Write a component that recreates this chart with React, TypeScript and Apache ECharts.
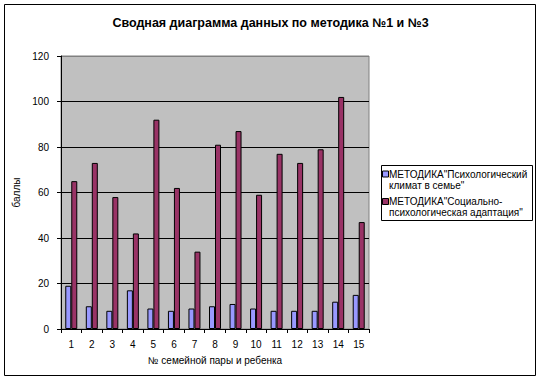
import React, { useEffect, useRef } from "react";
import * as echarts from "echarts";

const categories = ["1", "2", "3", "4", "5", "6", "7", "8", "9", "10", "11", "12", "13", "14", "15"];
const seriesNames = [
  'МЕТОДИКА"Психологический климат в семье"',
  'МЕТОДИКА"Социально-психологическая адаптация"',
];
const legendLines = [
  ['МЕТОДИКА"Психологический', 'климат в семье"'],
  ['МЕТОДИКА"Социально-', 'психологическая адаптация"'],
];
const climateValues = [19, 10, 8, 17, 9, 8, 9, 10, 11, 9, 8, 8, 8, 12, 15];
const adaptationValues = [65, 73, 58, 42, 92, 62, 34, 81, 87, 59, 77, 73, 79, 102, 47];
const seriesColors = ["#9999FF", "#993366"];
const titleText = "Сводная диаграмма данных по методика №1 и №3";
const yAxisName = "баллы";
const xAxisName = "№ семейной пары и ребенка";

const FONT = "'Liberation Sans', Arial, sans-serif";

export default function App() {
  const ref = useRef<HTMLDivElement>(null);
  useEffect(() => {
    if (!ref.current) return;
    const chart = echarts.init(ref.current, undefined, { renderer: "svg" });
    const legendX = 381;
    const legendY = 165;
    const legendItems: any[] = [];
    legendLines.forEach((lines, i) => {
      const baseY = legendY + 9 + i * 27.5;
      legendItems.push({
        type: "rect",
        shape: { x: legendX + 1.5, y: baseY - 3, width: 6, height: 6 },
        style: { fill: seriesColors[i], stroke: "#000", lineWidth: 1 },
      });
      lines.forEach((ln, j) => {
        legendItems.push({
          type: "text",
          x: legendX + 8,
          y: baseY + j * 11,
          style: {
            text: ln,
            font: `10px ${FONT}`,
            fill: "#000",
            textVerticalAlign: "middle",
            verticalAlign: "middle",
          },
        });
      });
    });
    chart.setOption({
      animation: false,
      backgroundColor: "#ffffff",
      title: {
        text: titleText,
        left: "center",
        top: 16,
        padding: [0, 23, 0, 5],
        textStyle: { fontFamily: FONT, fontSize: 12.5, fontWeight: "bold", color: "#000" },
      },
      grid: {
        left: 61,
        top: 56,
        right: 172,
        bottom: 52,
        show: true,
        backgroundColor: "#C0C0C0",
        borderColor: "#808080",
        borderWidth: 1,
      },
      xAxis: {
        type: "category",
        data: categories,
        name: xAxisName,
        nameLocation: "middle",
        nameGap: 26,
        nameTextStyle: { fontFamily: FONT, fontSize: 10, color: "#000" },
        axisLine: { lineStyle: { color: "#000", width: 1 } },
        axisTick: { show: true, length: 4, lineStyle: { color: "#000" } },
        axisLabel: { fontFamily: FONT, fontSize: 10, color: "#000", margin: 10 },
      },
      yAxis: {
        type: "value",
        min: 0,
        max: 120,
        interval: 20,
        name: yAxisName,
        nameLocation: "middle",
        nameGap: 40,
        nameRotate: 90,
        nameTextStyle: { fontFamily: FONT, fontSize: 10, color: "#000" },
        axisLine: { show: true, lineStyle: { color: "#000", width: 1 } },
        axisTick: { show: true, length: 4, lineStyle: { color: "#000" } },
        axisLabel: { fontFamily: FONT, fontSize: 10, color: "#000", margin: 12 },
        splitLine: {
          show: true,
          lineStyle: {
            color: ["#000", "#000", "#000", "#000", "#000", "#000", "#808080"],
            width: 1,
          },
        },
      },
      series: [
        {
          name: seriesNames[0],
          type: "bar",
          data: climateValues,
          barWidth: 6,
          barGap: "0%",
          itemStyle: { color: seriesColors[0], borderColor: "#000", borderWidth: 1 },
        },
        {
          name: seriesNames[1],
          type: "bar",
          data: adaptationValues,
          barWidth: 6,
          barGap: "0%",
          itemStyle: { color: seriesColors[1], borderColor: "#000", borderWidth: 1 },
        },
      ],
      graphic: [
        {
          type: "rect",
          shape: { x: 4.5, y: 4.5, width: 531, height: 371 },
          style: { fill: "none", stroke: "#000", lineWidth: 1 },
          silent: true,
          z: 100,
        },
        {
          type: "rect",
          shape: { x: legendX + 0.5, y: legendY + 0.5, width: 151, height: 55 },
          style: { fill: "#fff", stroke: "#000", lineWidth: 1 },
        },
        ...legendItems,
      ],
    });
    return () => chart.dispose();
  }, []);
  return (
    <div
      ref={ref}
      style={{ position: "fixed", left: 0, top: 0, width: 541, height: 381 }}
    />
  );
}
